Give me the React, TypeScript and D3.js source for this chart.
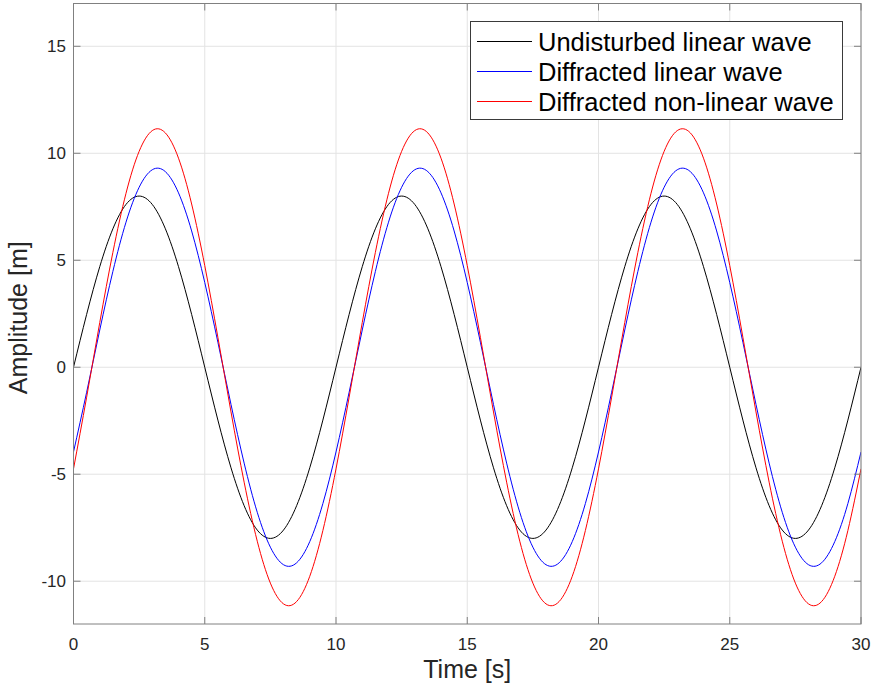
import React from "react";
import * as d3 from "d3";

const time: number[] = Array.from({ length: 61 }, (_, i) => i * 0.5);

const undisturbed: number[] = [
  0, 2.47, 4.7, 6.47, 7.61, 8.0, 7.61, 6.47, 4.7, 2.47,
  0, -2.47, -4.7, -6.47, -7.61, -8.0, -7.61, -6.47, -4.7, -2.47,
  0, 2.47, 4.7, 6.47, 7.61, 8.0, 7.61, 6.47, 4.7, 2.47,
  0, -2.47, -4.7, -6.47, -7.61, -8.0, -7.61, -6.47, -4.7, -2.47,
  0, 2.47, 4.7, 6.47, 7.61, 8.0, 7.61, 6.47, 4.7, 2.47,
  0, -2.47, -4.7, -6.47, -7.61, -8.0, -7.61, -6.47, -4.7, -2.47,
  0,
];

const diffractedLinear: number[] = [
  -3.96, -1.17, 1.74, 4.48, 6.78, 8.41, 9.23, 9.14, 8.15, 6.37,
  3.96, 1.17, -1.74, -4.48, -6.78, -8.41, -9.23, -9.14, -8.15, -6.37,
  -3.96, -1.17, 1.74, 4.48, 6.78, 8.41, 9.23, 9.14, 8.15, 6.37,
  3.96, 1.17, -1.74, -4.48, -6.78, -8.41, -9.23, -9.14, -8.15, -6.37,
  -3.96, -1.17, 1.74, 4.48, 6.78, 8.41, 9.23, 9.14, 8.15, 6.37,
  3.96, 1.17, -1.74, -4.48, -6.78, -8.41, -9.23, -9.14, -8.15, -6.37,
  -3.96,
];

const diffractedNonLinear: number[] = [
  -4.75, -1.4, 2.09, 5.37, 8.13, 10.09, 11.06, 10.95, 9.77, 7.63,
  4.75, 1.4, -2.09, -5.37, -8.13, -10.09, -11.06, -10.95, -9.77, -7.63,
  -4.75, -1.4, 2.09, 5.37, 8.13, 10.09, 11.06, 10.95, 9.77, 7.63,
  4.75, 1.4, -2.09, -5.37, -8.13, -10.09, -11.06, -10.95, -9.77, -7.63,
  -4.75, -1.4, 2.09, 5.37, 8.13, 10.09, 11.06, 10.95, 9.77, 7.63,
  4.75, 1.4, -2.09, -5.37, -8.13, -10.09, -11.06, -10.95, -9.77, -7.63,
  -4.75,
];

const xTicks: number[] = [0, 5, 10, 15, 20, 25, 30];
const yTicks: number[] = [-10, -5, 0, 5, 10, 15];

const seriesNames: string[] = [
  "Undisturbed linear wave",
  "Diffracted linear wave",
  "Diffracted non-linear wave",
];
const seriesColors: string[] = ["#000000", "#0000ff", "#ff0000"];
const seriesValues: number[][] = [undisturbed, diffractedLinear, diffractedNonLinear];

const W = 873;
const H = 687;
const left = 73.5;
const right = 861;
const top = 3.5;
const bottom = 624;

export default function App() {
  const x = d3.scaleLinear().domain([0, 30]).range([left, right]);
  const y = d3.scaleLinear().domain([-12, 17]).range([bottom, top]);
  const font = "'Liberation Sans', Arial, Helvetica, sans-serif";
  const axisColor = "#808080";
  const textColor = "#262626";
  const tickLen = 7;

  const lineGen = (vals: number[]) =>
    d3
      .line<number>()
      .x((_, i) => x(time[i]))
      .y((d) => y(d))
      .curve(d3.curveNatural)(vals) as string;

  return (
    <svg
      width={W}
      height={H}
      style={{ position: "absolute", left: 0, top: 0, background: "#fff" }}
      fontFamily={font}
    >
      <rect x={0} y={0} width={W} height={H} fill="#fff" />
      {/* grid */}
      <g stroke="#e3e3e3" strokeWidth={1}>
        {xTicks.map((t) => (
          <line key={"gx" + t} x1={x(t)} x2={x(t)} y1={top} y2={bottom} />
        ))}
        {yTicks.map((t) => (
          <line key={"gy" + t} x1={left} x2={right} y1={y(t)} y2={y(t)} />
        ))}
      </g>
      <defs>
        <clipPath id="plotclip">
          <rect x={left} y={top} width={right - left} height={bottom - top} />
        </clipPath>
      </defs>
      {/* lines */}
      <g clipPath="url(#plotclip)" fill="none" strokeWidth={1}>
        {seriesValues.map((vals, i) => (
          <path key={i} d={lineGen(vals)} stroke={seriesColors[i]} />
        ))}
      </g>
      {/* box and ticks */}
      <rect
        x={left}
        y={top}
        width={right - left}
        height={bottom - top}
        fill="none"
        stroke={axisColor}
        strokeWidth={1}
      />
      <g stroke={axisColor} strokeWidth={1}>
        {xTicks.map((t) => (
          <g key={"tx" + t}>
            <line x1={x(t)} x2={x(t)} y1={bottom} y2={bottom - tickLen} />
            <line x1={x(t)} x2={x(t)} y1={top} y2={top + tickLen} />
          </g>
        ))}
        {yTicks.map((t) => (
          <g key={"ty" + t}>
            <line x1={left} x2={left + tickLen} y1={y(t)} y2={y(t)} />
            <line x1={right} x2={right - tickLen} y1={y(t)} y2={y(t)} />
          </g>
        ))}
      </g>
      {/* tick labels */}
      <g fill={textColor} fontSize={17}>
        {xTicks.map((t) => (
          <text key={"lx" + t} x={x(t)} y={650} textAnchor="middle">
            {t}
          </text>
        ))}
        {yTicks.map((t) => (
          <text key={"ly" + t} x={66} y={y(t) + 6} textAnchor="end">
            {t}
          </text>
        ))}
      </g>
      {/* axis labels */}
      <text x={(left + right) / 2} y={678} textAnchor="middle" fontSize={25} fill={textColor}>
        Time [s]
      </text>
      <text
        transform={`translate(27, ${(top + bottom) / 2 + 4}) rotate(-90)`}
        textAnchor="middle"
        fontSize={25}
        fill={textColor}
      >
        Amplitude [m]
      </text>
      {/* legend */}
      <g>
        <rect x={470.5} y={21.5} width={372} height={98} fill="#fff" stroke="#3a3a3a" strokeWidth={1} />
        {seriesNames.map((name, i) => (
          <g key={name}>
            <line
              x1={477}
              x2={532}
              y1={41.5 + i * 30}
              y2={41.5 + i * 30}
              stroke={seriesColors[i]}
              strokeWidth={1}
            />
            <text x={538} y={41.5 + i * 30 + 9} fontSize={25.5} fill="#000">
              {name}
            </text>
          </g>
        ))}
      </g>
    </svg>
  );
}
